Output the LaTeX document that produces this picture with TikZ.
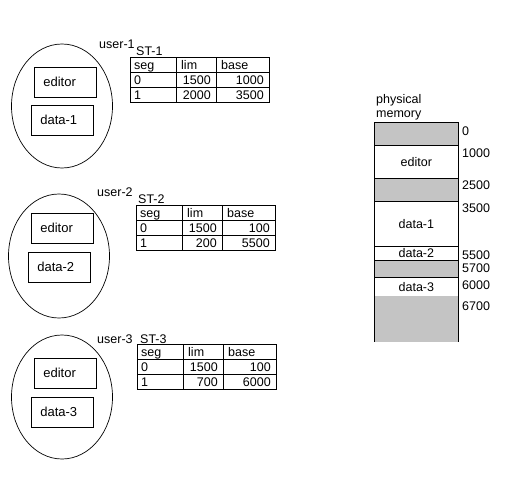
\documentclass[tikz,border=0pt]{standalone}
\usepackage{fontspec}
\setmainfont{Liberation Sans}
\usetikzlibrary{shapes.geometric}
\definecolor{memgray}{RGB}{196,196,196}
\tikzset{
  ln/.style={line width=0.7pt},
  userell/.style={draw, ln, ellipse, minimum width=101pt, minimum height=124pt, inner sep=0pt},
  segbox/.style={draw, ln, minimum width=62pt, minimum height=30pt, inner xsep=9pt, text width=44pt, align=left, font=\fontsize{13}{15}\selectfont},
  lbl/.style={inner sep=0pt, font=\fontsize{12.5}{14}\selectfont},
  tabframe/.style={draw, ln, anchor=north west, minimum width=139pt, minimum height=45pt, inner sep=0pt},
  memseg/.style={draw, ln, anchor=north west, minimum width=84pt, inner sep=0pt, font=\fontsize{12.5}{14}\selectfont},
}
\newcommand{\segtab}[7]{%
  \begin{scope}[shift={(#2,#3)}]
    \node[tabframe] (#1) at (0,0) {};
    \draw[ln] (46,0) -- (46,45) (86,0) -- (86,45) (0,15) -- (139,15) (0,30) -- (139,30);
    \node[lbl, anchor=base west] (#1-h1) at (4,12) {seg};
    \node[lbl, anchor=base west] (#1-h2) at (51,12) {lim};
    \node[lbl, anchor=base west] (#1-h3) at (91,12) {base};
    \node[lbl, anchor=base west] (#1-a1) at (4,27) {0};
    \node[lbl, anchor=base east] (#1-a2) at (81,27) {#4};
    \node[lbl, anchor=base east] (#1-a3) at (134,27) {#5};
    \node[lbl, anchor=base west] (#1-b1) at (4,42) {1};
    \node[lbl, anchor=base east] (#1-b2) at (81,42) {#6};
    \node[lbl, anchor=base east] (#1-b3) at (134,42) {#7};
  \end{scope}}
\begin{document}
\begin{tikzpicture}[x=1pt,y=-1pt]
\useasboundingbox[fill=white] (0,0) rectangle (519,482);
% user 1
\node[userell] (u1) at (62,106) {};
\node[segbox, anchor=north west] (u1ed) at (34,67) {\raisebox{2pt}{editor}};
\node[segbox, anchor=north west] (u1da) at (31,105) {\raisebox{2pt}{data-1}};
\node[lbl, anchor=west] (u1l) at (99,44) {user-1};
\node[lbl, anchor=west] (st1l) at (136,51) {ST-1};
\segtab{st1}{130}{57}{1500}{1000}{2000}{3500}
% user 2
\node[userell] (u2) at (59,256) {};
\node[segbox, anchor=north west] (u2ed) at (31,213) {\raisebox{2pt}{editor}};
\node[segbox, anchor=north west] (u2da) at (28,252) {\raisebox{2pt}{data-2}};
\node[lbl, anchor=west] (u2l) at (97,192) {user-2};
\node[lbl, anchor=west] (st2l) at (138,199) {ST-2};
\segtab{st2}{136}{205}{1500}{100}{200}{5500}
% user 3
\node[userell] (u3) at (62,397) {};
\node[segbox, anchor=north west] (u3ed) at (34,358) {\raisebox{2pt}{editor}};
\node[segbox, anchor=north west] (u3da) at (31,397) {\raisebox{2pt}{data-3}};
\node[lbl, anchor=west] (u3l) at (97,339) {user-3};
\node[lbl, anchor=west] (st3l) at (140,339) {ST-3};
\segtab{st3}{137}{344}{1500}{100}{700}{6000}
% physical memory
\node[lbl, anchor=west, align=left] (pm1) at (376,100) {physical};
\node[lbl, anchor=west, align=left] (pm2) at (376,115) {memory};
\node[memseg, fill=memgray, minimum height=23pt] (m0) at (374,122) {};
\node[memseg, minimum height=33pt] (m1) at (374,145) {editor};
\node[memseg, fill=memgray, minimum height=23pt] (m2) at (374,178) {};
\node[memseg, minimum height=45pt] (m3) at (374,201) {data-1};
\node[memseg, minimum height=14pt] (m4) at (374,246) {data-2};
\node[memseg, fill=memgray, minimum height=17pt] (m5) at (374,260) {};
\node[memseg, minimum height=19pt] (m6) at (374,277) {data-3};
\node[anchor=north west, fill=memgray, minimum width=84pt, minimum height=46pt, inner sep=0pt] (m7) at (374,296) {};
\draw[ln] (m7.north west) -- (m7.south west) (m7.north east) -- (m7.south east);
\node[lbl, anchor=west] (a0) at (462,131) {0};
\node[lbl, anchor=west] (a1) at (462,153) {1000};
\node[lbl, anchor=west] (a2) at (462,185) {2500};
\node[lbl, anchor=west] (a3) at (462,208) {3500};
\node[lbl, anchor=west] (a4) at (462,255) {5500};
\node[lbl, anchor=west] (a5) at (462,268) {5700};
\node[lbl, anchor=west] (a6) at (462,285) {6000};
\node[lbl, anchor=west] (a7) at (462,306) {6700};
\end{tikzpicture}
\end{document}
